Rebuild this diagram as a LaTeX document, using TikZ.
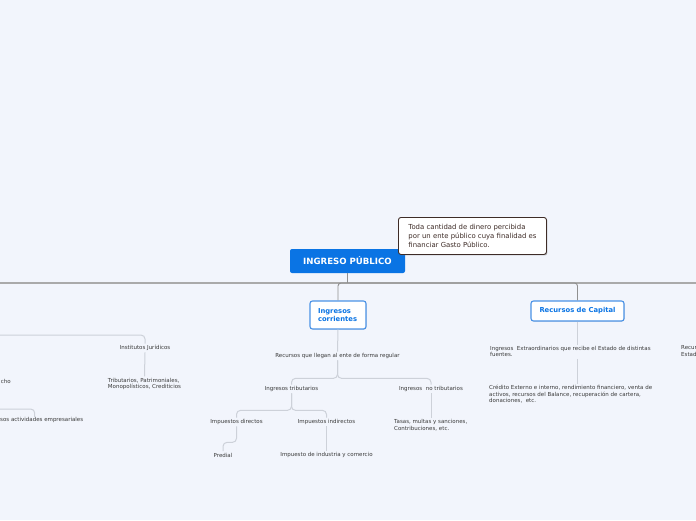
\documentclass[tikz,border=0pt]{standalone}
\usepackage{fontspec}
\setmainfont{DejaVu Sans}
\usetikzlibrary{positioning,shadows}
\definecolor{bgcol}{HTML}{F2F5FC}
\definecolor{rootblue}{HTML}{0A74E4}
\definecolor{boxblue}{HTML}{4A92E6}
\definecolor{linkgray}{HTML}{CDD1D9}
\definecolor{maingray}{HTML}{AAAAAA}
\definecolor{notebrown}{HTML}{3E2C27}
\definecolor{txtgray}{HTML}{3A3A3A}

\begin{document}
\begin{tikzpicture}[x=1pt,y=-1pt,
  topic/.style={font=\fontsize{5.5}{6.6}\selectfont, text=txtgray, inner sep=1.5pt, fill=bgcol, align=left},
  branch/.style={draw=boxblue, fill=white, rounded corners=2.5pt, line width=1.1pt, text=rootblue,
    font=\fontsize{6.8}{8.4}\selectfont\bfseries, drop shadow={shadow xshift=0.6pt, shadow yshift=-0.6pt, opacity=0.25}},
  link/.style={draw=linkgray, line width=1pt, rounded corners=4pt},
  mainlink/.style={draw=maingray!85!black, line width=0.9pt, rounded corners=3pt}]

  \fill[bgcol] (0,0) rectangle (696,520);
  \useasboundingbox (0,0) rectangle (696,520);
  \clip (0,0) rectangle (696,520);

  \coordinate (westend) at (0,283);
  \coordinate (eastend) at (696,283);
  \coordinate (lefttop) at (0,335);
  \coordinate (leftlow) at (0,409);

  \node[fill=rootblue, text=white, rounded corners=2pt, minimum width=115pt, minimum height=24pt,
    font=\fontsize{8.6}{10}\selectfont\bfseries] (root) at (347.5,261) {INGRESO PÚBLICO};
  \node[draw=notebrown, fill=white, rounded corners=2.5pt, line width=0.9pt, text=notebrown,
    anchor=north west, minimum width=148pt, minimum height=37pt, inner xsep=8pt, align=left,
    font=\fontsize{6.9}{9}\selectfont, drop shadow={shadow xshift=1pt, shadow yshift=-1pt, opacity=0.45}]
    (note) at (398,217) {Toda cantidad de dinero percibida\\por un ente público cuya finalidad es\\financiar Gasto Público.};

  \node[branch, minimum width=56pt, minimum height=28pt, inner xsep=8pt, text width=40pt, align=left]
    (corr) at (338,315) {Ingresos\\corrientes};
  \node[branch, minimum width=93pt, minimum height=20pt] (capital) at (577.5,311) {Recursos de Capital};

  \node[topic] (instj) at (145,348) {Institutos Jurídicos};
  \node[topic] (tribpat) at (144.5,384) {Tributarios, Patrimoniales,\\Monopolísticos, Crediticios};
  \node[topic, anchor=east, inner sep=0pt] (cho) at (11,381) {cho};
  \node[topic, anchor=west, inner sep=0pt] (empr) at (0,420) {sos actividades empresariales};

  \node[topic] (recreg) at (337.5,356) {Recursos que llegan al ente de forma regular};
  \node[topic] (trib) at (291.5,389) {Ingresos tributarios};
  \node[topic] (notrib) at (431,389) {Ingresos\ \ no tributarios};
  \node[topic] (impdir) at (236.5,422) {Impuestos directos};
  \node[topic] (impind) at (326.5,422) {Impuestos indirectos};
  \node[topic] (predial) at (223,455) {Predial};
  \node[topic] (indcom) at (326.5,455) {Impuesto de industria y comercio};
  \node[topic, anchor=west] (tasas) at (392.5,425.5) {Tasas, multas y sanciones,\\Contribuciones, etc.};

  \node[topic, anchor=north west] (extra) at (488.5,344.5) {Ingresos\ \ Extraordinarios que recibe el Estado de distintas\\fuentes.};
  \node[topic, anchor=north west] (credito) at (487.5,383.5) {Crédito Externo e interno, rendimiento financiero, venta de\\activos, recursos del Balance, recuperación de cartera,\\donaciones,\ \ etc.};
  \node[topic, anchor=north west, inner sep=0pt] (recur) at (681,345.5) {Recur\\Estad};

  \draw[maingray, line width=1.6pt] (westend) -- (eastend);
  \draw[mainlink] (root.south) -- (root.south |- westend);
  \draw[mainlink] (root.south |- westend) -| (corr.north);
  \draw[mainlink] (root.south |- westend) -| (capital.north);

  \draw[link] (lefttop) -| (instj.north);
  \draw[link] (instj.south) -- (tribpat.north);
  \draw[link] (leftlow) -| ([xshift=-7pt]empr.north);

  \draw[link] (corr.south) -- (recreg.north);
  \draw[link] (recreg.south) -- ++(0,18) -| (trib.north);
  \draw[link] (recreg.south) -- ++(0,18) -| (notrib.north);
  \draw[link] (trib.south) -- ++(0,17) -| (impdir.north);
  \draw[link] (trib.south) -- ++(0,17) -| (impind.north);
  \draw[link] (impdir.south) -- ++(0,16) -| (predial.north);
  \draw[link] (impind.south) -- (indcom.north);
  \draw[link] (notrib.south) -- (notrib.south |- tasas.north);

  \draw[link] (capital.south) -- (capital.south |- extra.north);
  \draw[link] (capital.south |- extra.south) -- (capital.south |- credito.north);
\end{tikzpicture}
\end{document}
